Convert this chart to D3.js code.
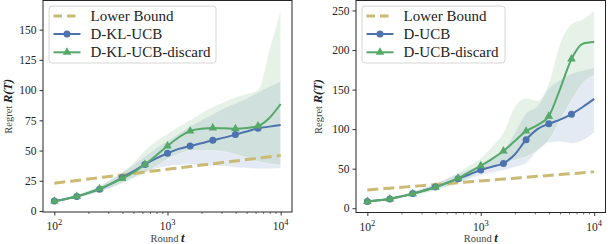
<!DOCTYPE html>
<html><head><meta charset="utf-8">
<script src="https://cdn.jsdelivr.net/npm/d3@7"></script>
<style>
html,body{margin:0;padding:0;background:#fff;}
svg{display:block;font-family:"Liberation Serif","Times New Roman",serif;}
</style></head>
<body><svg id="c" width="608" height="244"></svg>
<script>
// ---------- data ----------
const rounds = [100,126,158,200,251,316,398,501,631,794,1000,1259,1585,1995,2512,3162,3981,5012,6310,7943,10000];
const lowerBound = [23.0,24.2,25.3,26.5,27.6,28.8,29.9,31.1,32.2,33.4,34.5,35.7,36.8,38.0,39.1,40.3,41.4,42.6,43.7,44.9,46.0];

// left panel: D-KL-UCB vs D-KL-UCB-discard
const klMean   = [8.2,10,12.1,15,18.1,22.5,27.7,33,38.5,43.5,47.8,51.4,53.8,56,58.5,60.7,63.2,65.7,68.4,69.8,71.2];
const klUpper  = [9,11,13.5,17,20.5,26,32,38,45,52,58,64,70,75,80,85,89,93,98,103,107];
const klLower  = [7.5,9,11,13,16,19,23.5,28,32,35,37,38,38.5,38,37.5,37,36,35.5,35,35,35.5];
const kldMean  = [8.2,10,12,15,18.4,22.5,26.9,32,38.5,46,53.8,61,66.2,68,68.7,68.5,68.1,68.7,70.3,77,88.5];
const kldUpper = [9,11,13.5,17,21,26,32,40,50,58,64,70,75,81,86,90,94,97,100,133,166];
const kldLower = [7.5,9,11,13,16,19,23,27,31,37,43,47,50,50,50,49,47,44,41,39,38];

// right panel: D-UCB vs D-UCB-discard
const ucbMean   = [8.4,10,11.8,15,18.5,22.5,26.9,32,37.4,42.7,48.3,52.5,56.7,68,86.6,100,106.7,112,118.9,128,138.2];
const ucbUpper  = [9.5,11.5,13.5,17,21,26,31,37,43,49,54,62,73,95,120,129,151,162,170,174,178];
const ucbLower  = [7.5,9,10.5,13,16,19.5,23,27,32,37,42,45,48,52,57,73,83,84,82,86,96];
const ucbdMean  = [8.4,10,11.8,15,18.3,22,26.5,32,37.8,45.5,53.8,62.5,72.3,85,97.5,105,116.4,151,188.7,208,210];
const ucbdUpper = [9.5,11.5,13.5,17,21,25.5,31,38,45,54,63,78,95,128,139,136,158,208,233,239,250];
const ucbdLower = [7.5,9,10.5,13,16,19,23,27,32,38,46,52,57,61,65,73,86,111,136,158,168];

const leftTicks  = [0,25,50,75,100,125,150];
const rightTicks = [0,50,100,150,200,250];
const xMajor = [100,1000,10000];
const xMinor = [200,300,400,500,600,700,800,900,2000,3000,4000,5000,6000,7000,8000,9000];
const xExp = ["2","3","4"];
const legendLeft  = ["Lower Bound","D-KL-UCB","D-KL-UCB-discard"];
const legendRight = ["Lower Bound","D-UCB","D-UCB-discard"];

const BLUE="#4C72B0", GREEN="#55A868", GOLD="#CCB974";

const svg = d3.select("#c");

function panel(o){
  const g = svg.append("g");
  const x = d3.scaleLog().domain([Math.pow(10,1.9),Math.pow(10,4.1)]).range([o.x0,o.x1]);
  const y = d3.scaleLinear().domain(o.yDomain).range([o.y1,o.y0]);
  const clipId = "clip"+o.id;
  svg.append("clipPath").attr("id",clipId).append("rect")
    .attr("x",o.x0).attr("y",o.y0).attr("width",o.x1-o.x0).attr("height",o.y1-o.y0);
  const plot = g.append("g").attr("clip-path","url(#"+clipId+")");

  const area = (lo,hi)=>d3.area().x((d,i)=>x(rounds[i])).y0((d,i)=>y(lo[i])).y1((d,i)=>y(hi[i])).curve(d3.curveMonotoneX);
  const line = arr=>d3.line().x((d,i)=>x(rounds[i])).y(d=>y(d)).curve(d3.curveMonotoneX);

  // bands
  plot.append("path").attr("d",area(o.aLo,o.aHi)(o.aMean)).attr("fill",BLUE).attr("fill-opacity",0.15)
     .attr("stroke","#fff").attr("stroke-opacity",0.5).attr("stroke-width",0.8);
  plot.append("path").attr("d",area(o.bLo,o.bHi)(o.bMean)).attr("fill",GREEN).attr("fill-opacity",0.15)
     .attr("stroke","#fff").attr("stroke-opacity",0.5).attr("stroke-width",0.8);

  // lower bound
  plot.append("path").attr("d",line()(lowerBound)).attr("fill","none").attr("stroke",GOLD)
     .attr("stroke-width",3).attr("stroke-dasharray","11,5");

  // blue series
  plot.append("path").attr("d",line()(o.aMean)).attr("fill","none").attr("stroke",BLUE).attr("stroke-width",2);
  plot.selectAll(".ma").data(o.aMean.filter((d,i)=>i%2===0 && i<20)).enter().append("circle")
     .attr("cx",(d,i)=>x(rounds[i*2])).attr("cy",d=>y(d)).attr("r",3.5).attr("fill",BLUE);
  // green series
  plot.append("path").attr("d",line()(o.bMean)).attr("fill","none").attr("stroke",GREEN).attr("stroke-width",2);
  const tri = d3.symbol().type(d3.symbolTriangle).size(32);
  plot.selectAll(".mb").data(o.bMean.filter((d,i)=>i%2===0 && i<20)).enter().append("path")
     .attr("d",tri).attr("transform",(d,i)=>`translate(${x(rounds[i*2])},${y(d)})`).attr("fill",GREEN);

  // axes
  const ya = g.append("g").attr("transform",`translate(${o.x0},0)`)
     .call(d3.axisLeft(y).tickValues(o.yTicks).tickSize(3.5).tickPadding(3));
  ya.select(".domain").remove();
  ya.selectAll("text").attr("font-size",11.5).attr("fill","#222").attr("font-family","Liberation Serif");
  ya.selectAll("line").attr("stroke","#333");

  const xa = g.append("g").attr("transform",`translate(0,${o.y1})`)
     .call(d3.axisBottom(x).tickValues(xMajor).tickSize(3.5).tickFormat(""));
  xa.select(".domain").remove();
  xa.selectAll("line").attr("stroke","#333");
  const xm = g.append("g").attr("transform",`translate(0,${o.y1})`)
     .call(d3.axisBottom(x).tickValues(xMinor).tickSize(2).tickFormat(""));
  xm.select(".domain").remove();
  xm.selectAll("line").attr("stroke","#333").attr("stroke-width",0.7);

  xMajor.forEach((v,i)=>{
    const t = g.append("text").attr("x",x(v)).attr("y",o.y1+18).attr("text-anchor","middle")
      .attr("font-size",11.5).attr("fill","#222");
    t.append("tspan").text("10");
    t.append("tspan").attr("dy",-5).attr("font-size",8.5).text(xExp[i]);
  });

  // spines
  g.append("rect").attr("x",o.x0).attr("y",o.y0).attr("width",o.x1-o.x0).attr("height",o.y1-o.y0)
    .attr("fill","none").attr("stroke","#262626").attr("stroke-width",1);

  // axis labels
  const xl = g.append("text").attr("x",(o.x0+o.x1)/2).attr("y",242).attr("text-anchor","middle").attr("fill","#444");
  xl.append("tspan").attr("font-size",10.5).text("Round ");
  xl.append("tspan").attr("font-size",12.5).attr("font-weight","bold").attr("font-style","italic").attr("fill","#222").text("t");

  const yl = g.append("text").attr("transform",`translate(${o.ylx},${(o.y0+o.y1)/2}) rotate(-90)`)
    .attr("text-anchor","middle").attr("fill","#444");
  yl.append("tspan").attr("font-size",10.5).text("Regret ");
  yl.append("tspan").attr("font-size",12.5).attr("font-weight","bold").attr("font-style","italic").attr("fill","#222").text("R(T)");

  // legend
  const L = g.append("g");
  L.append("rect").attr("x",o.x0+6).attr("y",6).attr("width",o.legW).attr("height",57).attr("rx",3)
    .attr("fill","#fff").attr("fill-opacity",0.8).attr("stroke","#d6d6d6").attr("stroke-width",1);
  const rows=[16,34,52.3];
  const hx0=o.x0+10.5, hx1=o.x0+37.5, hm=(hx0+hx1)/2;
  L.append("line").attr("x1",hx0).attr("x2",hx1).attr("y1",rows[0]).attr("y2",rows[0])
    .attr("stroke",GOLD).attr("stroke-width",3).attr("stroke-dasharray","8.5,5");
  L.append("line").attr("x1",hx0).attr("x2",hx1).attr("y1",rows[1]).attr("y2",rows[1]).attr("stroke",BLUE).attr("stroke-width",2);
  L.append("circle").attr("cx",hm).attr("cy",rows[1]).attr("r",3.5).attr("fill",BLUE);
  L.append("line").attr("x1",hx0).attr("x2",hx1).attr("y1",rows[2]).attr("y2",rows[2]).attr("stroke",GREEN).attr("stroke-width",2);
  L.append("path").attr("d",tri).attr("transform",`translate(${hm},${rows[2]})`).attr("fill",GREEN);
  o.legend.forEach((s,i)=>{
    L.append("text").attr("x",o.x0+47.5).attr("y",rows[i]+5).attr("font-size",15).attr("fill","#222").text(s);
  });
}

panel({id:"L",x0:43,x1:292,y0:0.5,y1:212,yDomain:[-0.8,174.1],yTicks:leftTicks,ylx:12,
  aMean:klMean,aLo:klLower,aHi:klUpper,bMean:kldMean,bLo:kldLower,bHi:kldUpper,legend:legendLeft,legW:167});
panel({id:"R",x0:356,x1:605.5,y0:0.5,y1:212.5,yDomain:[-5.4,262.6],yTicks:rightTicks,ylx:322,
  aMean:ucbMean,aLo:ucbLower,aHi:ucbUpper,bMean:ucbdMean,bLo:ucbdLower,bHi:ucbdUpper,legend:legendRight,legW:143});
</script></body></html>
